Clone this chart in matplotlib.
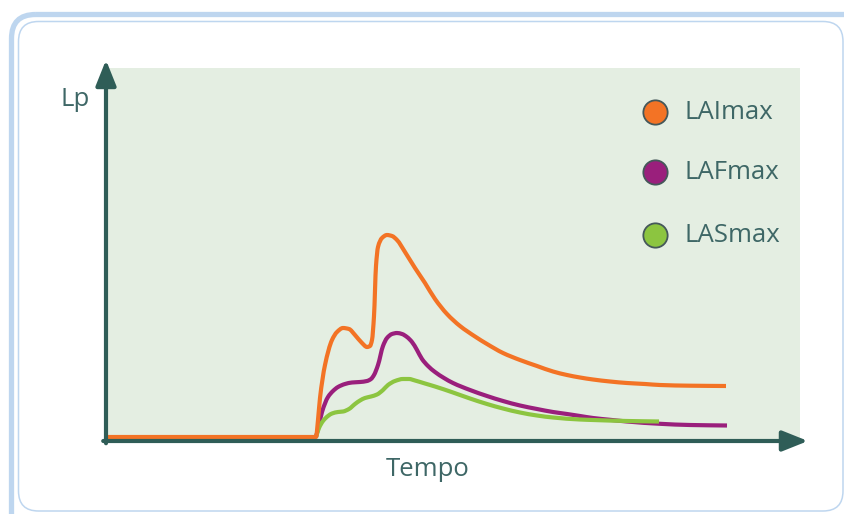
import matplotlib
matplotlib.use("Agg")
import matplotlib.pyplot as plt
from matplotlib.patches import FancyBboxPatch, PathPatch
from matplotlib.path import Path

plt.rcParams['font.family'] = ['Open Sans', 'DejaVu Sans']

# ---- data (time and level in arbitrary units) ----
series_names = ["LAImax", "LAFmax", "LASmax"]
series_colors = ["#f37325", "#9a1f7c", "#8cc540"]

lai_time = [2, 210, 212, 214, 219, 226, 231, 237, 243, 249, 256, 261, 264, 266, 268,
            270, 272, 276, 281, 286, 291, 299, 309, 319, 329, 341, 354, 369, 381,
            397, 414, 431, 447, 461, 474, 487, 504, 521, 539, 554, 584, 620]
lai_level = [4, 4, 21, 43, 76, 101, 109, 113, 112, 106, 98, 94, 95, 101, 125,
             175, 194, 203, 206, 205, 201, 189, 173, 158, 142, 127, 115, 104.5, 97,
             88, 81, 75, 69.5, 66, 63.5, 61.5, 59.5, 58, 57, 56, 55.3, 55]

laf_time = [210, 213, 216, 222, 227, 232, 239, 246, 254, 261, 265, 268, 272, 277, 281,
            286, 291, 296, 301, 306, 311, 316, 322, 329, 338, 347, 364, 381, 397, 414,
            431, 447, 461, 474, 487, 504, 521, 554, 584, 621]
laf_level = [4, 16, 29, 44, 50, 54, 57, 58.5, 59, 60, 62, 66, 76, 95, 103,
             107, 108, 107, 104, 99, 91, 82, 75, 69, 63, 58, 51, 45, 40, 35.5,
             32, 29, 27, 25, 23, 21.2, 19.5, 17.2, 16, 15.5]

las_time = [210, 213, 217, 222, 226, 232, 237, 243, 249, 254, 259, 265, 271, 277, 282,
            289, 297, 303, 309, 319, 329, 347, 364, 381, 397, 414, 431, 447, 474, 487,
            521, 553]
las_level = [4, 13, 20, 25, 27.5, 29, 29.5, 32, 37, 40.5, 43, 44.5, 46.5, 51, 56,
             60, 62, 62, 60.5, 57.5, 54.5, 48.5, 42.5, 37, 32.5, 28.5, 25.5, 23.5, 21.5, 21,
             20, 19.5]

x_label = "Tempo"
y_label = "Lp"


def smooth_path(xs, ys):
    """Bezier path through every read point, shape-preserving (PCHIP) tangents."""
    n = len(xs)
    h = [xs[i + 1] - xs[i] for i in range(n - 1)]
    d = [(ys[i + 1] - ys[i]) / h[i] for i in range(n - 1)]
    m = [0.0] * n
    m[0] = d[0]
    m[-1] = d[-1]
    for i in range(1, n - 1):
        if d[i - 1] * d[i] <= 0:
            m[i] = 0.0
        else:
            w1 = 2 * h[i] + h[i - 1]
            w2 = h[i] + 2 * h[i - 1]
            m[i] = (w1 + w2) / (w1 / d[i - 1] + w2 / d[i])
    verts = [(xs[0], ys[0])]
    codes = [Path.MOVETO]
    for i in range(n - 1):
        hh = h[i] / 3.0
        verts += [(xs[i] + hh, ys[i] + m[i] * hh),
                  (xs[i + 1] - hh, ys[i + 1] - m[i + 1] * hh),
                  (xs[i + 1], ys[i + 1])]
        codes += [Path.CURVE4] * 3
    return Path(verts, codes)


# ---- figure ----
W, H = 844, 514
fig = plt.figure(figsize=(W / 100, H / 100), dpi=100)
fig.patch.set_facecolor("white")

# frame (background)
bg = fig.add_axes([0, 0, 1, 1], zorder=0)
bg.set_xlim(0, W)
bg.set_ylim(H, 0)
bg.axis("off")
frame_col = "#bed6ef"
bg.add_patch(FancyBboxPatch((11.5, 14.5), 900, 600,
                            boxstyle="round,pad=0,rounding_size=24",
                            fill=False, ec=frame_col, lw=3.8))
bg.add_patch(FancyBboxPatch((18.5, 21.5), 824.5, 489.5,
                            boxstyle="round,pad=0,rounding_size=20",
                            fill=False, ec=frame_col, lw=1.1))

# chart axes (green plot area)
x0, x1, y0, y1 = 106, 800, 441, 68
ax = fig.add_axes([x0 / W, (H - y0) / H, (x1 - x0) / W, (y0 - y1) / H], zorder=2)
ax.set_facecolor("#e4eee2")
ax.set_xlim(0, x1 - x0)
ax.set_ylim(0, y0 - y1)
ax.set_xticks([])
ax.set_yticks([])
for s in ax.spines.values():
    s.set_visible(False)

data = {"LAImax": (lai_time, lai_level), "LAFmax": (laf_time, laf_level),
        "LASmax": (las_time, las_level)}
zorders = {"LAFmax": 3, "LASmax": 4, "LAImax": 5}
for name, col in zip(series_names, series_colors):
    t, lv = data[name]
    ax.add_patch(PathPatch(smooth_path(t, lv), fill=False, ec=col, lw=3.0,
                           capstyle="butt", joinstyle="round", zorder=zorders[name],
                           label=name))

# axes arrows
axis_col = "#2f5d57"
for xy, xyt in [((0, 1.0215), (0, -0.006)), ((1.0115, 0), (-0.004, 0))]:
    ax.annotate("", xy=xy, xytext=xyt, xycoords="axes fraction",
                arrowprops=dict(arrowstyle="-|>,head_length=1.55,head_width=0.62",
                                mutation_scale=10, lw=3.0, color=axis_col,
                                shrinkA=0, shrinkB=0),
                annotation_clip=False, zorder=10)

# legend (manual)
text_col = "#3e6766"
leg_y = [0.882, 0.721, 0.552]
for name, col, yy in zip(series_names, series_colors, leg_y):
    ax.plot([0.791], [yy], marker="o", ms=17.5, mfc=col, mec="#45585a", mew=1.3,
            transform=ax.transAxes, clip_on=False, zorder=12)
    ax.text(0.834, yy, name, transform=ax.transAxes, fontsize=18.5, color=text_col,
            va="center", ha="left", zorder=12)

# axis labels
fig.text(75 / W, 1 - 99 / H, y_label, fontsize=18.5, color=text_col, ha="center", va="center")
fig.text(428 / W, 1 - 470 / H, x_label, fontsize=18.5, color=text_col, ha="center", va="center")

fig.savefig("out.png", dpi=100, facecolor="white")
